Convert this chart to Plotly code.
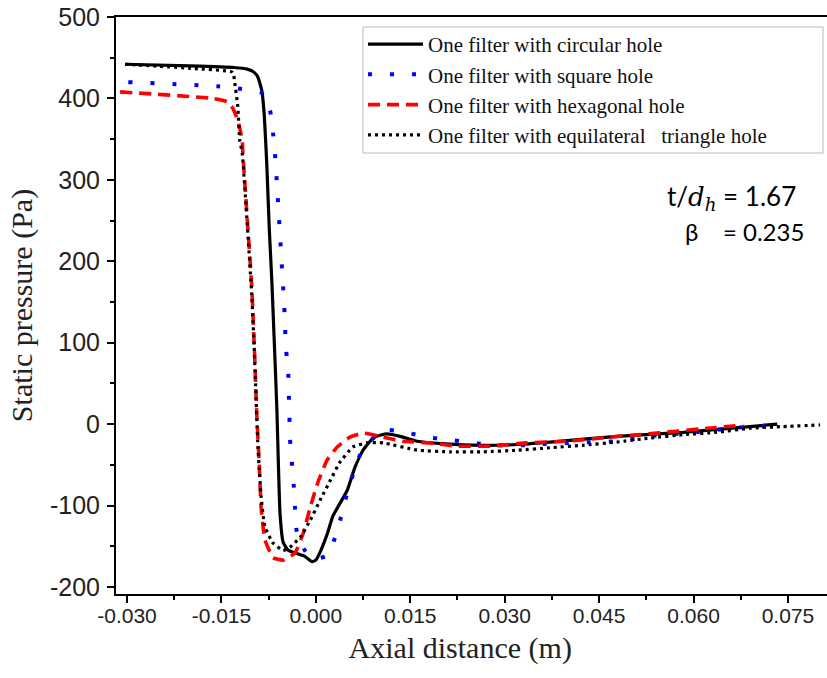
import plotly.graph_objects as go

# ---------------- data ----------------
circ_x = [-0.0303, -0.0200, -0.0130, -0.0109, -0.0098, -0.0092, -0.0086, -0.0082, -0.0078,
          -0.0074, -0.0070, -0.0066, -0.0062, -0.0057, -0.0052, -0.0044, -0.0030, -0.0018,
          -0.0010, -0.0006, 0.0000, 0.0008, 0.0018, 0.0027, 0.0040, 0.0050, 0.0062, 0.0075,
          0.0091, 0.0105, 0.0113, 0.0134, 0.0161, 0.0200, 0.0266, 0.0320, 0.0372, 0.0478,
          0.0583, 0.0733]
circ_y = [442, 440, 438, 436, 432, 426, 410, 380, 320,
          240, 177, 100, 20, -109, -145, -155, -159, -162,
          -167, -169, -167, -155, -135, -113, -95, -81, -53, -32,
          -17, -13, -12, -15, -21, -24, -26, -25, -22, -15,
          -10, 0]

sq_x = [-0.0298, -0.0157, -0.0121, -0.0086, -0.0073, -0.0068, -0.0065, -0.0051, -0.0049,
        -0.0048, -0.0044, -0.0043, -0.0042, -0.0041, -0.0038, -0.0035, -0.0033, -0.0030,
        -0.0013, 0.0003, 0.0019, 0.0032, 0.0042, 0.0051, 0.0070, 0.0089, 0.0107, 0.0142,
        0.0177, 0.0210, 0.0248, 0.0288, 0.0329, 0.0367, 0.0404, 0.0440, 0.0478, 0.0515,
        0.0551, 0.0590, 0.0623, 0.0661, 0.0694, 0.0733]
sq_y = [420, 415, 412, 407, 386, 357, 333, 155, 125,
        97, 66, 38, 9, -19, -48, -77, -105, -134,
        -161, -165, -161, -136, -108, -81, -38, -19, -7, -10,
        -16, -19, -23, -26, -26, -24, -23, -22, -21, -17,
        -13, -11, -8, -5, -3, -1]

hex_x = [-0.0311, -0.0163, -0.0141, -0.0132, -0.0124, -0.0117, -0.0116, -0.0102, -0.0100,
         -0.0097, -0.0094, -0.0090, -0.0087, -0.0081, -0.0068, -0.0052, -0.0033, -0.0020,
         -0.0009, 0.0003, 0.0018, 0.0034, 0.0054, 0.0075, 0.0107, 0.0138, 0.0181, 0.0224,
         0.0277, 0.0335, 0.0399, 0.0467, 0.0542, 0.0610, 0.0679]
hex_y = [408, 400, 396, 388, 373, 349, 333, 171, 136,
         79, 14, -48, -102, -142, -164, -167, -158, -134,
         -102, -72, -44, -28, -16, -11, -16, -21, -23, -27,
         -27, -23, -21, -16, -11, -6, -1]

tri_x = [-0.0303, -0.0200, -0.0132, -0.0129, -0.0124, -0.0121, -0.0117, -0.0102, -0.0098,
         -0.0095, -0.0092, -0.0087, -0.0081, -0.0068, -0.0052, -0.0041, -0.0025, -0.0009,
         0.0007, 0.0023, 0.0038, 0.0059, 0.0081, 0.0107, 0.0161, 0.0213, 0.0266, 0.0320,
         0.0372, 0.0424, 0.0478, 0.0531, 0.0583, 0.0637, 0.0690, 0.0742, 0.0801]
tri_y = [442, 437, 432, 420, 390, 349, 333, 161, 95,
         33, -28, -89, -126, -146, -155, -151, -139, -118,
         -93, -69, -47, -28, -23, -23, -32, -34, -34, -32,
         -29, -26, -22, -17, -13, -10, -5, -3, -1]

names = ["One filter with circular hole",
         "One filter with square hole",
         "One filter with hexagonal hole",
         "One filter with equilateral&nbsp;&nbsp; triangle hole"]

x_ticks = [-0.030, -0.015, 0.000, 0.015, 0.030, 0.045, 0.060, 0.075]
x_ticklabels = ["-0.030", "-0.015", "0.000", "0.015", "0.030", "0.045", "0.060", "0.075"]
y_ticks = [-200, -100, 0, 100, 200, 300, 400, 500]
y_ticklabels = ["-200", "-100", "0", "100", "200", "300", "400", "500"]

# ---------------- figure ----------------
fig = go.Figure()
fig.add_trace(go.Scatter(x=circ_x, y=circ_y, mode="lines", name=names[0],
                         line=dict(color="black", width=3.2, shape="spline", smoothing=0.4)))
fig.add_trace(go.Scatter(x=sq_x, y=sq_y, mode="lines", name=names[1],
                         line=dict(color="#0000ff", width=4, dash="4px,18px", shape="spline", smoothing=0.4)))
fig.add_trace(go.Scatter(x=hex_x, y=hex_y, mode="lines", name=names[2],
                         line=dict(color="#ff0000", width=3.6, dash="12px,7px", shape="spline", smoothing=0.4)))
fig.add_trace(go.Scatter(x=tri_x, y=tri_y, mode="lines", name=names[3],
                         line=dict(color="black", width=3.2, dash="3px,4px", shape="spline", smoothing=0.4)))

serif = "Liberation Serif, Times New Roman"
fig.update_layout(
    width=827, height=678,
    margin=dict(l=116, r=0, t=17, b=84),
    paper_bgcolor="white", plot_bgcolor="white",
    showlegend=True,
    legend=dict(x=0.3474, y=0.988, xanchor="left", yanchor="top",
                bgcolor="rgba(0,0,0,0)", borderwidth=0,
                font=dict(family=serif, size=21, color="#111"),
                itemwidth=55),
    xaxis=dict(range=[-0.03175, 0.0812], tickvals=x_ticks, ticktext=x_ticklabels,
               showgrid=False, zeroline=False, showline=True, linecolor="black", linewidth=2,
               mirror=True, ticks="outside", ticklen=7, tickwidth=2, tickcolor="black",
               ticklabelstandoff=-5,
               tickfont=dict(family="Liberation Sans, Arial", size=21, color="#222"),
               minor=dict(dtick=0.0075, tick0=0, ticks="outside", ticklen=4, tickwidth=2, tickcolor="black"),
               title=dict(text="Axial distance (m)&nbsp;&nbsp;&nbsp;", standoff=11,
                          font=dict(family=serif, size=30, color="#222"))),
    yaxis=dict(range=[-208.6, 500], tickvals=y_ticks, ticktext=y_ticklabels,
               showgrid=False, zeroline=False, showline=True, linecolor="black", linewidth=2,
               mirror=False, ticks="outside", ticklen=7, tickwidth=2, tickcolor="black",
               ticklabelstandoff=2,
               tickfont=dict(family="Liberation Sans, Arial", size=25, color="#222"),
               minor=dict(dtick=50, tick0=0, ticks="outside", ticklen=4, tickwidth=2, tickcolor="black"),
               title=dict(text="Static pressure (Pa)", standoff=8,
                          font=dict(family=serif, size=30, color="#222"))),
)

# legend frame (box around the legend, as in the reference)
fig.add_shape(type="rect", xref="paper", yref="paper",
              x0=(363 - 116) / 711, x1=(823 - 116) / 711,
              y0=(594 - 153) / 577, y1=(594 - 27) / 577,
              line=dict(color="#bbbbbb", width=1), fillcolor="white", layer="above")

fig.add_annotation(xref="paper", yref="paper", x=(665 - 116) / 711, y=(594 - 197) / 577,
                   xanchor="left", yanchor="middle", showarrow=False,
                   text="t/<span style='font-family:DejaVu Serif'><i>d</i><sub><i>h</i></sub></span> = 1.67",
                   font=dict(family="Lato, Open Sans", size=26, color="black"))
fig.add_annotation(xref="paper", yref="paper", x=(683 - 116) / 711, y=(594 - 232) / 577,
                   xanchor="left", yanchor="middle", showarrow=False,
                   text="β&nbsp;&nbsp;&nbsp; = 0.235",
                   font=dict(family="Lato, Open Sans", size=24, color="black"))

fig.write_html("out.html")
